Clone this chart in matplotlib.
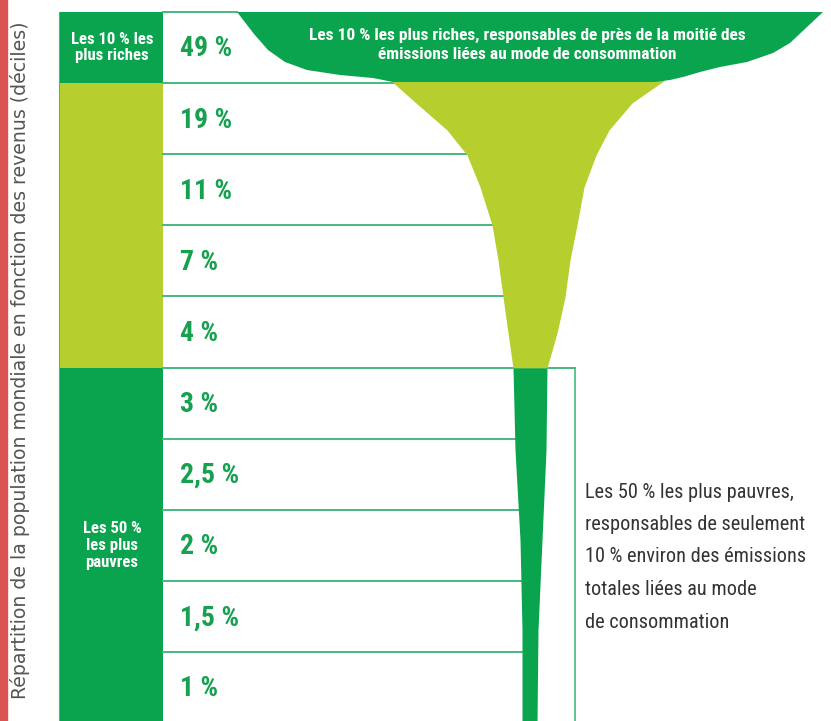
import numpy as np
import matplotlib
matplotlib.use("Agg")
import matplotlib.pyplot as plt
from matplotlib.patches import Polygon, Rectangle

# ---------------- data ----------------
shares = [49, 19, 11, 7, 4, 3, 2.5, 2, 1.5, 1]
share_labels = ["49 %", "19 %", "11 %", "7 %", "4 %", "3 %", "2,5 %", "2 %", "1,5 %", "1 %"]
groups = ["top10", "mid", "mid", "mid", "mid", "bottom50", "bottom50", "bottom50", "bottom50", "bottom50"]
group_labels = {"top10": "Les 10 % les\nplus riches", "bottom50": "Les 50 %\nles plus\npauvres"}
top_text = "Les 10 % les plus riches, responsables de près de la moitié des\némissions liées au mode de consommation"
bottom_text = ["Les 50 % les plus pauvres,", "responsables de seulement",
               "10 % environ des émissions", "totales liées au mode", "de consommation"]
ylabel = "Répartition de la population mondiale en fonction des revenus (déciles)"

# funnel outline (pixel rows -> left / right edges)
funnel_y_px = [80, 103, 130, 155, 187, 225, 260, 297, 333, 368, 450, 540, 630, 723]
funnel_left_px = [390, 416, 447, 467, 480, 492, 498, 503, 508, 513, 515, 520, 522, 522]
funnel_right_px = [665, 632, 609, 596, 584, 577, 570, 565, 557, 547, 546, 542, 538, 537]
SPLIT_INDEX = 9  # light part above this row, dark stem below
bowl_px = [(237, 12), (823, 12), (807, 27), (790, 43), (773, 53), (747, 62), (720, 67),
           (700, 72), (683, 77), (670, 80), (655, 82), (393, 82), (373, 78), (340, 75),
           (307, 70), (285, 62), (268, 50), (254, 34), (244, 21)]

# ---------------- style ----------------
DARK = "#0ba44e"
LIGHT = "#b6cf2e"
LINE = "#45b97f"
PCT = "#17a050"
RED = "#d95353"
group_colors = {"top10": DARK, "mid": LIGHT, "bottom50": DARK}
NARROW = ["Roboto Condensed", "DejaVu Sans"]
REG = ["DejaVu Sans"]

W, H = 831, 721
ROW0, ROWH = 12.0, 71.1
def dy(py):
    return (np.asarray(py, dtype=float) - ROW0) / ROWH

fig = plt.figure(figsize=(W / 100, H / 100), dpi=100)
ax = fig.add_axes([0, 0, 1, 1])
ax.set_xlim(0, W)
ax.set_ylim(dy(H), dy(0))
ax.axis("off")

n = len(shares)
# left coloured column
for i, g in enumerate(groups):
    ax.barh(i + 0.5, 103, left=60, height=1.0, color=group_colors[g], edgecolor="none", zorder=2)
ax.plot([59, 59], [0, n], color=LINE, lw=0.8, zorder=1)

# funnel
fy = dy(funnel_y_px)
fl = np.array(funnel_left_px, float)
fr = np.array(funnel_right_px, float)
s = SPLIT_INDEX
ax.fill_betweenx(fy[:s + 1], fl[:s + 1], fr[:s + 1], color=LIGHT, lw=0, zorder=3)
ax.fill_betweenx(fy[s:], fl[s:], fr[s:], color=DARK, lw=0, zorder=3)
bowl = [(x, float(dy(y))) for x, y in bowl_px]
ax.add_patch(Polygon(bowl, closed=True, color=DARK, lw=0, zorder=4))

def left_edge(yv):
    return float(np.interp(yv, fy, fl))

# row lines
for b in range(n + 1):
    if b == 0:
        x_end = bowl_px[0][0]
    elif b == 5:
        x_end = 575
    else:
        x_end = left_edge(b)
    ax.plot([163, x_end], [b, b], color=LINE, lw=1.4, zorder=2.5)
ax.plot([575, 575], [5, n], color=LINE, lw=1.2, zorder=2.5)

# percentage labels
for i, lab in enumerate(share_labels):
    ax.text(180, i + 0.52, lab, ha="left", va="center", fontsize=20, fontweight="bold",
            color=PCT, family=NARROW, zorder=5)

# group labels
ax.text(112, 0.5, group_labels["top10"], ha="center", va="center", fontsize=12,
        fontweight="bold", color="white", family=NARROW, linespacing=1.1, zorder=5)
ax.text(112, 7.5, group_labels["bottom50"], ha="center", va="center", fontsize=12,
        fontweight="bold", color="white", family=NARROW, linespacing=1.15, zorder=5)

# top band text
ax.text(527, float(dy(45)), top_text, ha="center", va="center", fontsize=12.5,
        fontweight="bold", color="white", family=NARROW, linespacing=1.3, zorder=5)

# right text
for k, line in enumerate(bottom_text):
    ax.text(585, float(dy(492 + 32.5 * k)), line, ha="left", va="center", fontsize=14.6,
            color="#333333", family=NARROW, zorder=5)

# red strip and y label
fig.patches.append(Rectangle((0, 0), 7 / W, 1, transform=fig.transFigure, color=RED, zorder=0))
fig.text(20 / W, 0.5, ylabel, rotation=90, ha="center", va="center", fontsize=13.6,
         color="#555555", family=REG)

fig.savefig("out.png", dpi=100)
